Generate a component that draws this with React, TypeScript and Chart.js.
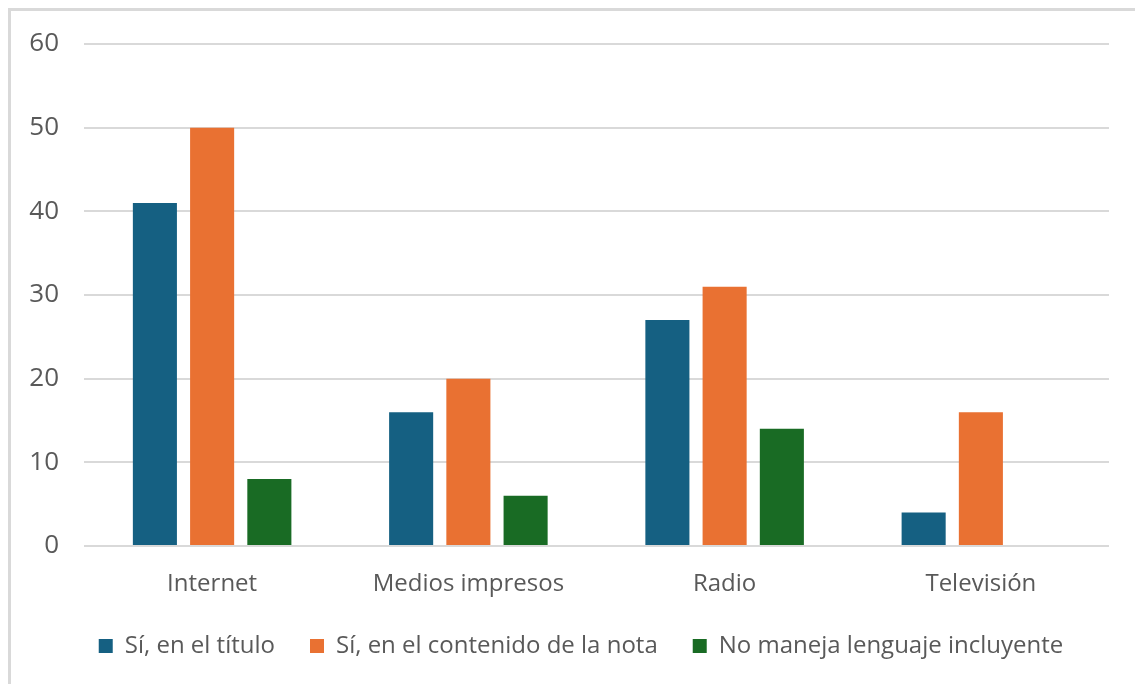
import React, { useEffect, useRef } from "react";
import { Chart, registerables } from "chart.js";

Chart.register(...registerables);

const categories = ["Internet", "Medios impresos", "Radio", "Televisión"];
const seriesNames = ["Sí, en el título", "Sí, en el contenido de la nota", "No maneja lenguaje incluyente"];
const titulo = [41, 16, 27, 4];
const contenido = [50, 20, 31, 16];
const noManeja = [8, 6, 14, 0];
const colors = ["#156082", "#E97132", "#196B24"];

const FONT = "'Open Sans', 'Noto Sans', sans-serif";

const shiftLegend = {
  id: "shiftLegend",
  afterLayout(chart: any) {
    const lg = chart.legend;
    if (lg) {
      lg.left += 21;
      lg.right += 21;
    }
  },
};

export default function App() {
  const ref = useRef<HTMLCanvasElement | null>(null);
  useEffect(() => {
    if (!ref.current) return;
    const values = [titulo, contenido, noManeja];
    const chart = new Chart(ref.current, {
      type: "bar",
      data: {
        labels: categories,
        datasets: seriesNames.map((name, i) => ({
          label: name,
          data: values[i],
          backgroundColor: colors[i],
          borderWidth: 0,
          categoryPercentage: 0.67,
          barPercentage: 0.77,
        })),
      },
      plugins: [shiftLegend],
      options: {
        animation: false,
        responsive: true,
        maintainAspectRatio: false,
        layout: { padding: { left: 0, right: 26, top: 33, bottom: 16 } },
        plugins: {
          tooltip: { enabled: false },
          legend: {
            position: "bottom",
            labels: {
              boxWidth: 14,
              boxHeight: 14,
              padding: 35,
              color: "#595959",
              font: { family: FONT, size: 24 },
            },
          },
        },
        scales: {
          x: {
            grid: { display: false, drawTicks: false },
            border: { display: false },
            ticks: { color: "#595959", font: { family: FONT, size: 24 }, padding: 24 },
            afterFit: (s: any) => {
              s.height = 53;
            },
          },
          y: {
            min: 0,
            max: 60,
            ticks: { stepSize: 10, color: "#595959", font: { family: FONT, size: 26 }, padding: 25 },
            grid: { color: "#d9d9d9", lineWidth: 2, drawTicks: false },
            border: { display: false },
            afterFit: (s: any) => {
              s.width = 73;
              s.paddingTop = 0;
              s.paddingBottom = 0;
            },
          },
        },
      },
    });
    return () => chart.destroy();
  }, []);
  return (
    <div
      style={{
        position: "fixed",
        left: 8,
        top: 8,
        width: 1127,
        height: 676,
        borderLeft: "3px solid #d9d9d9",
        borderTop: "3px solid #d9d9d9",
        boxSizing: "border-box",
        background: "#fff",
        overflow: "hidden",
      }}
    >
      <div style={{ position: "relative", width: "100%", height: 673 }}>
        <canvas ref={ref} />
      </div>
    </div>
  );
}
